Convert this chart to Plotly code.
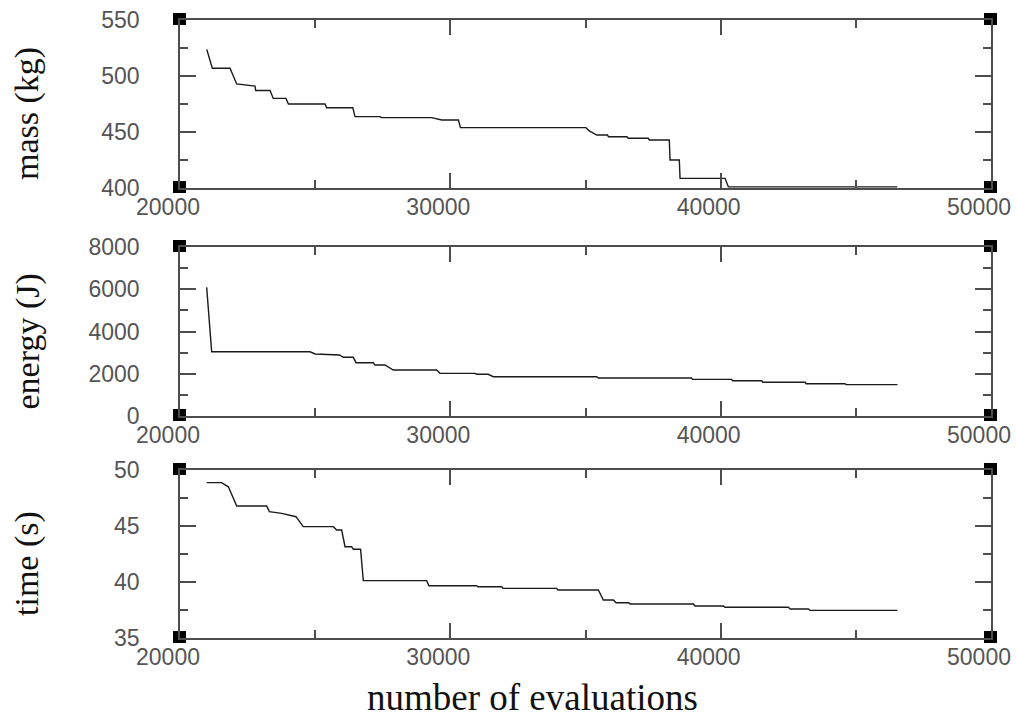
import plotly.graph_objects as go

# Convergence history of the three objectives against the evaluation count
mass_evals = [20990, 21195, 21850, 22097, 22775, 22800, 23330, 23450, 23920, 24010,
              25365, 25425, 26390, 26475, 27400, 27450, 29310, 29680, 30300, 30375,
              35015, 35140, 35420, 35810, 35850, 36530, 36580, 37320, 37360, 38100,
              38128, 38470, 38498, 40163, 40285, 46530]
mass_kg = [523.8, 506.9, 506.9, 492.9, 491, 487, 487, 480, 480, 475,
           475, 471.7, 471.7, 463.7, 463.7, 462.8, 462.8, 460.7, 460.7, 453.9,
           453.9, 450.9, 447.3, 447.3, 445.8, 445.8, 444.4, 444.4, 442.9, 442.9,
           425, 425, 408.6, 408.6, 401, 401]

energy_evals = [20987, 21172, 24810, 25000, 25900, 26040, 26410, 26510, 27150, 27210,
                27580, 27890, 29490, 29620, 30915, 30975, 31400, 31590, 35415, 35480,
                38920, 38960, 40405, 40440, 41520, 41560, 43125, 43160, 44600, 44640,
                46540]
energy_J = [6090, 3040, 3040, 2935, 2888, 2778, 2778, 2524, 2524, 2414,
            2414, 2177, 2177, 2020, 2020, 1974, 1974, 1861, 1861, 1800,
            1800, 1736, 1736, 1672, 1672, 1595, 1595, 1530, 1530, 1483,
            1483]

time_evals = [20987, 21540, 21790, 22097, 23207, 23305, 23760, 24070, 24290, 24560,
              25670, 25795, 25980, 26105, 26350, 26410, 26680, 26780, 29125, 29210,
              30975, 31020, 31900, 31950, 33930, 33980, 35475, 35660, 36030, 36130,
              36600, 36650, 38990, 39050, 40100, 40160, 42505, 42570, 43245, 43310,
              46540]
time_s = [48.87, 48.87, 48.5, 46.79, 46.79, 46.28, 46.13, 45.98, 45.83, 44.94,
          44.94, 44.64, 44.64, 43.15, 43.15, 42.92, 42.92, 40.12, 40.12, 39.67,
          39.67, 39.58, 39.58, 39.43, 39.43, 39.29, 39.29, 38.39, 38.39, 38.15,
          38.15, 38.04, 38.04, 37.86, 37.86, 37.74, 37.74, 37.59, 37.59, 37.47,
          37.47]

x_range = [20000, 50000]
x_ticks = [20000, 30000, 40000, 50000]

panel_titles = ["mass (kg)", "energy (J)", "time (s)"]
y_ranges = [[400, 550], [0, 8000], [35, 50]]
y_ticks = [[400, 450, 500, 550], [0, 2000, 4000, 6000, 8000], [35, 40, 45, 50]]
y_minor = [25, 1000, 2.5]
x_title = "number of evaluations"

W, H = 1016, 717
# plot-area pixel boxes: (left, right, top, bottom)
left_px, right_px = 180, 991
rows_px = [(20, 188), (247, 416), (470, 638)]

AX_COL = "#4d4d4d"
TICK_FONT = dict(family="Liberation Sans, Arial, sans-serif", size=23, color="#555555")
YTITLE_FONT = dict(family="Liberation Serif, Times New Roman, serif", size=34, color="#111111")
XTITLE_FONT = dict(family="Liberation Serif, Times New Roman, serif", size=37, color="#111111")

fig = go.Figure()
series = [(mass_evals, mass_kg), (energy_evals, energy_J), (time_evals, time_s)]

layout = dict(
    width=W, height=H,
    margin=dict(l=0, r=0, t=0, b=0, pad=0),
    paper_bgcolor="white",
    plot_bgcolor="rgba(0,0,0,0)",
    showlegend=False,
)

shapes = []
annotations = []
for i, ((xs, ys), (top, bot)) in enumerate(zip(series, rows_px)):
    n = "" if i == 0 else str(i + 1)
    fig.add_trace(go.Scatter(
        x=xs, y=ys, mode="lines",
        line=dict(color="#1a1a1a", width=1.4),
        xaxis="x" + n, yaxis="y" + n, hoverinfo="skip",
    ))
    layout["xaxis" + n] = dict(
        domain=[left_px / W, right_px / W],
        anchor="y" + n, automargin=False,
        range=x_range, tickvals=x_ticks, ticktext=[str(v) for v in x_ticks],
        showline=True, linecolor=AX_COL, linewidth=1.5, mirror="ticks",
        ticks="inside", ticklen=15, tickwidth=1.5, tickcolor=AX_COL,
        minor=dict(ticks="inside", ticklen=8, dtick=5000, tick0=20000,
                   tickwidth=1.5, tickcolor=AX_COL, showgrid=False),
        showgrid=False, zeroline=False,
        tickfont=TICK_FONT, ticklabelshift=-12, ticklabelstandoff=-2,
    )
    lo, hi = y_ranges[i]
    layout["yaxis" + n] = dict(
        domain=[(H - bot) / H, (H - top) / H],
        anchor="x" + n, automargin=False,
        range=[lo, hi], tickvals=y_ticks[i], ticktext=[str(v) for v in y_ticks[i]],
        showline=True, linecolor=AX_COL, linewidth=1.5, mirror="ticks",
        ticks="inside", ticklen=16, tickwidth=1.5, tickcolor=AX_COL,
        minor=dict(ticks="inside", ticklen=8, dtick=y_minor[i], tick0=lo,
                   tickwidth=1.5, tickcolor=AX_COL, showgrid=False),
        showgrid=False, zeroline=False,
        tickfont=TICK_FONT, ticklabelstandoff=34,
    )
    # black corner markers
    for cx in (left_px, right_px):
        for cy in (top, bot):
            shapes.append(dict(
                type="rect", xref="paper", yref="paper", layer="below",
                x0=(cx - 7) / W, x1=(cx + 6) / W,
                y0=(H - cy - 5) / H, y1=(H - cy + 7) / H,
                fillcolor="black", line=dict(width=0),
            ))
    annotations.append(dict(
        text=panel_titles[i], xref="paper", yref="paper",
        x=27 / W, y=(H - ((top + bot) / 2 + 10)) / H,
        xanchor="center", yanchor="middle", textangle=-90,
        showarrow=False, font=YTITLE_FONT,
    ))

annotations.append(dict(
    text=x_title, xref="paper", yref="paper",
    x=532 / W, y=(H - 697) / H, xanchor="center", yanchor="middle",
    showarrow=False, font=XTITLE_FONT,
))

layout["shapes"] = shapes
layout["annotations"] = annotations
fig.update_layout(**layout)
fig.write_html("out.html")
